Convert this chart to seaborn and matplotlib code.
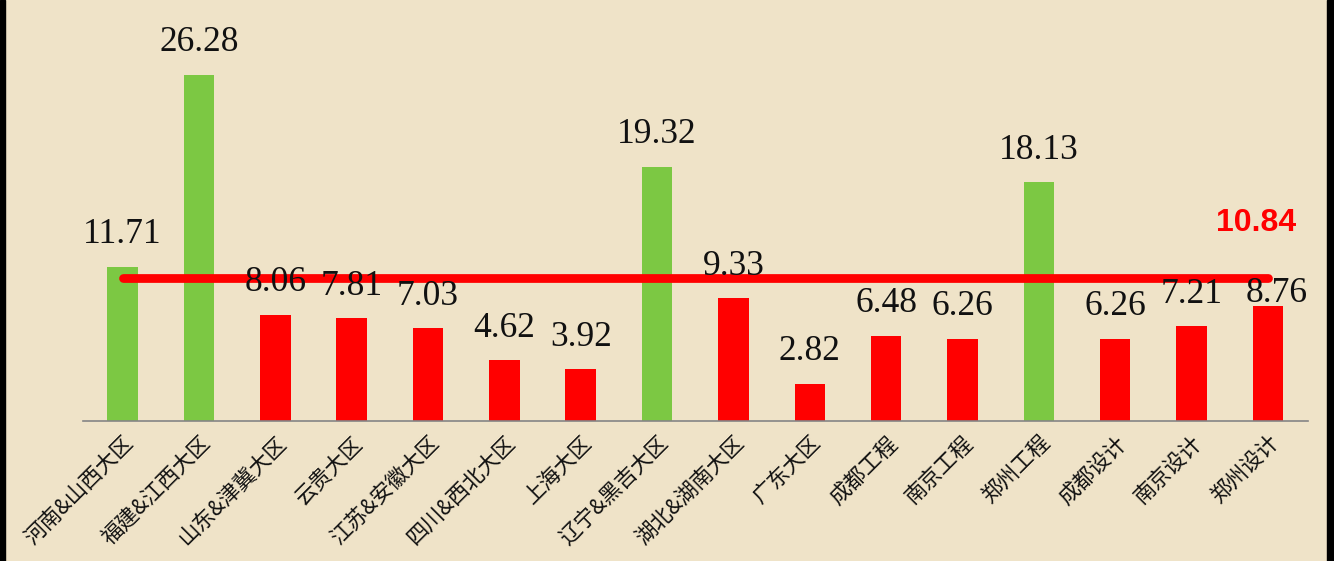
import matplotlib
matplotlib.use("Agg")
import matplotlib.pyplot as plt
import seaborn as sns
import pandas as pd
from matplotlib.patches import Rectangle

categories = ["河南&山西大区", "福建&江西大区", "山东&津冀大区", "云贵大区", "江苏&安徽大区",
              "四川&西北大区", "上海大区", "辽宁&黑吉大区", "湖北&湖南大区", "广东大区",
              "成都工程", "南京工程", "郑州工程", "成都设计", "南京设计", "郑州设计"]
values = [11.71, 26.28, 8.06, 7.81, 7.03, 4.62, 3.92, 19.32, 9.33, 2.82,
          6.48, 6.26, 18.13, 6.26, 7.21, 8.76]
average = 10.84

GREEN = "#7cc843"
RED = "#ff0000"
BG = "#efe3c8"

sns.set_theme(style="white")
plt.rcParams['font.family'] = ['Noto Sans CJK SC', 'DejaVu Sans']

df = pd.DataFrame({"cat": categories, "val": values})
colors = [GREEN if v > average else RED for v in values]

fig = plt.figure(figsize=(13.34, 5.61), dpi=100, facecolor=BG)
ax = fig.add_axes([0.0622, 0.2496, 0.918, 0.7504])
ax.set_facecolor(BG)

sns.barplot(data=df, x="cat", y="val", hue="cat", palette=colors, legend=False,
            width=0.4, saturation=1, linewidth=0, ax=ax, zorder=2)

ax.set_xlim(-0.52, 15.52)
ax.set_ylim(0, 421 / 13.17)

# average line
ax.plot([0, len(values) - 1], [average, average], color=RED, lw=6.3,
        solid_capstyle='round', zorder=3)
ax.text(len(values) - 1 - 0.15, 15.0, f"{average:.2f}", color=RED, fontsize=23,
        fontweight='bold', family=['Liberation Sans'], ha='center', va='center', zorder=5)

# value labels
for i, v in enumerate(values):
    dx, dy = 0, 23
    if i == len(values) - 1:
        dx, dy = 6, 9
    ax.annotate(f"{v:.2f}", (i, v), xytext=(dx, dy), textcoords='offset points',
                ha='center', va='center', fontsize=25.5, family=['Liberation Serif'],
                color='#111111', zorder=5)

for s in ['top', 'left', 'right']:
    ax.spines[s].set_visible(False)
ax.spines['bottom'].set_color('#858585')
ax.spines['bottom'].set_linewidth(1.2)
ax.set_yticks([])
ax.set_xlabel("")
ax.set_ylabel("")
ax.tick_params(axis='x', length=0, pad=8)
ax.set_xticks(range(len(categories)))
ax.set_xticklabels(categories, rotation=45, ha='right', rotation_mode='anchor',
                   fontsize=15.5, color='#111111')
for lbl in ax.get_xticklabels():
    lbl.set_fontfamily(['Noto Sans CJK SC', 'DejaVu Sans'])
    lbl.set_fontweight('medium')

# black side bands
fig.patches.append(Rectangle((0, 0), 5 / 1334, 1, transform=fig.transFigure,
                             color='black', zorder=10))
fig.patches.append(Rectangle((1327 / 1334, 0), 7 / 1334, 1, transform=fig.transFigure,
                             color='black', zorder=10))

fig.savefig("out.png", dpi=100, facecolor=BG)
